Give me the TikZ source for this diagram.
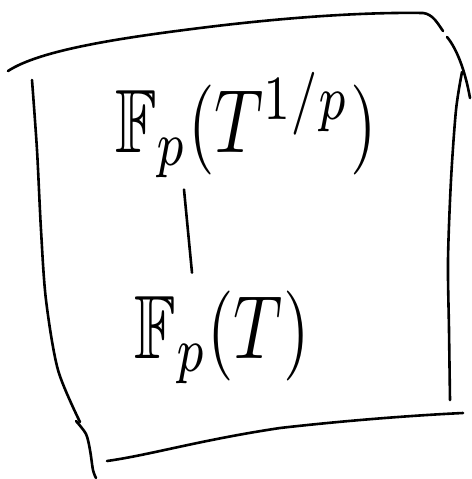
\documentclass[tikz,border=0pt]{standalone}
\usepackage{amssymb}
\begin{document}
\begin{tikzpicture}[x=1pt,y=-1pt,
  stroke/.style={line width=2.6pt,line cap=round,line join=round},
  field/.style={inner sep=0pt,xscale=6.8,yscale=9,transform shape}]
\useasboundingbox (0,0) rectangle (471,479);
% frame drawn by hand
\draw[stroke] (8,71) .. controls (40,50) and (120,38) .. (200,28)
              .. controls (280,18) and (360,12) .. (423,13)
              .. controls (433,14) and (438,24) .. (443,31);
\draw[stroke] (447,37) .. controls (458,50) and (466,75) .. (470,98);
\draw[stroke] plot[smooth] coordinates {(462,72) (456,110) (451,180) (448,260) (449,330) (450,400)};
\draw[stroke] plot[smooth] coordinates {(32,80) (37,150) (41,230) (46,300) (58,370) (80,422)};
\draw[stroke] plot[smooth] coordinates {(76,421) (86,434) (90,450) (93,470) (96,478)};
\draw[stroke] (107,461) .. controls (150,455) and (200,440) .. (280,428)
              .. controls (350,420) and (420,415) .. (463,413);
% the two fields
\node[field,anchor=base] (top) at (246,152) {$\mathbb{F}_p(T^{1/p})$};
\node[field,anchor=base] (bot) at (222,358) {$\mathbb{F}_p(T)$};
% inclusion
\draw[stroke] ([xshift=-62pt,yshift=-10pt]top.south) -- ([xshift=-30pt,yshift=16pt]bot.north);
\end{tikzpicture}
\end{document}
